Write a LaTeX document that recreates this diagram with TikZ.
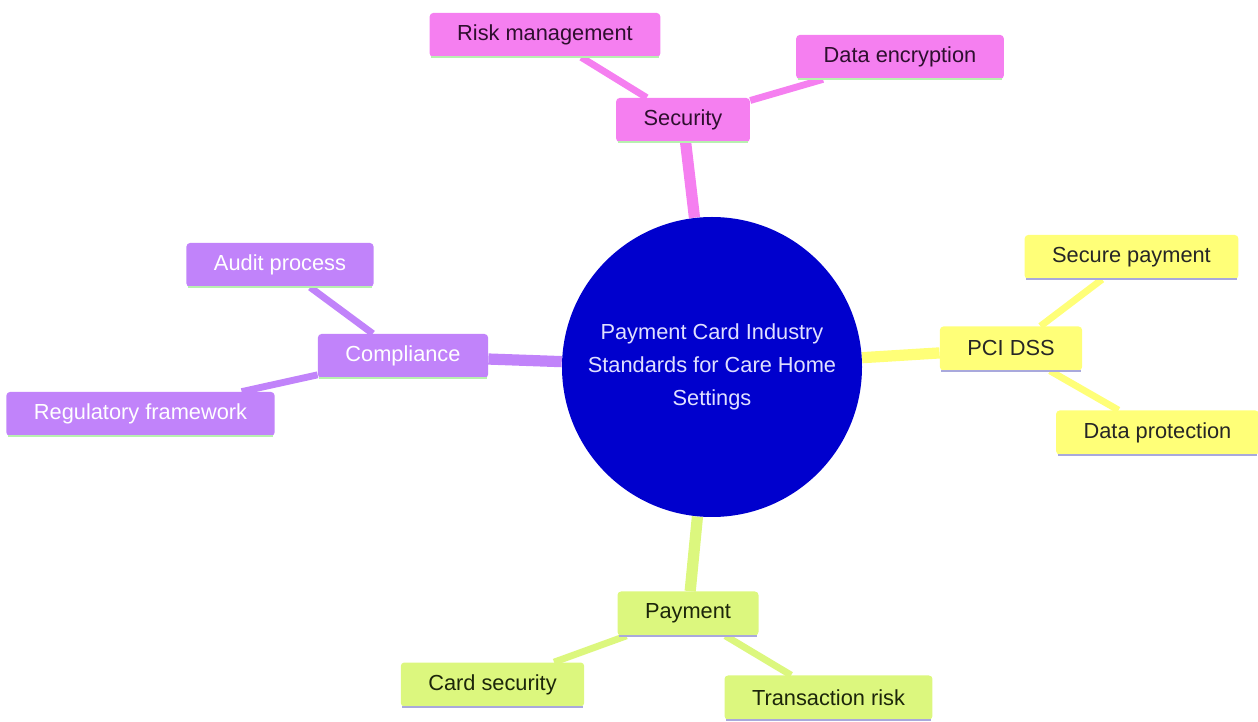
\documentclass[tikz,border=0pt]{standalone}
\usepackage{fontspec}
\setmainfont{Liberation Sans}
\usetikzlibrary{backgrounds}

\definecolor{centreblue}{HTML}{0000CD}
\definecolor{pinkfill}{HTML}{F57FF0}
\definecolor{purplefill}{HTML}{C183FA}
\definecolor{yellowfill}{HTML}{FFFF78}
\definecolor{greenfill}{HTML}{DCF77E}
\definecolor{mintline}{HTML}{B8F0B0}
\definecolor{lavline}{HTML}{A9A9DC}
\definecolor{pinktext}{HTML}{2E0F2E}
\definecolor{greentext}{HTML}{1C260A}

\tikzset{
    topic/.style={rectangle, rounded corners=2pt, inner xsep=0.55cm, minimum height=0.88cm,
        font=\fontsize{12.4}{14}\selectfont},
    centre/.style={circle, fill=centreblue, text=white!88!blue, minimum size=6cm,
        align=center, font=\fontsize{12.4}{18.7}\selectfont},
    trunk/.style={line width=6.4pt},
    twig/.style={line width=3.9pt}
}

\begin{document}
\begin{tikzpicture}
    \useasboundingbox (0,0) rectangle (25.16,-14.44);

    % the middle
    \node[centre] (pcis) at (14.24,-7.34) {Payment Card Industry\\Standards for Care Home\\Settings};

    % the main topics
    \node[topic, fill=pinkfill, text=pinktext] (sec) at (13.66,-2.40) {Security};
    \node[topic, fill=purplefill, text=white] (comp) at (8.06,-7.12) {Compliance};
    \node[topic, fill=yellowfill, text=black!85] (pci) at (20.22,-6.97) {PCI DSS};
    \node[topic, fill=greenfill, text=greentext] (pay) at (13.76,-12.27) {Payment};

    % the sub topics
    \node[topic, fill=pinkfill, text=pinktext] (risk) at (10.90,-0.70) {Risk management};
    \node[topic, fill=pinkfill, text=pinktext] (encr) at (18.00,-1.14) {Data encryption};
    \node[topic, fill=purplefill, text=white] (audit) at (5.60,-5.30) {Audit process};
    \node[topic, fill=purplefill, text=white] (regfw) at (2.81,-8.28) {Regulatory framework};
    \node[topic, fill=yellowfill, text=black!85] (securepay) at (22.63,-5.14) {Secure payment};
    \node[topic, fill=yellowfill, text=black!85] (dataprot) at (23.15,-8.65) {Data protection};
    \node[topic, fill=greenfill, text=greentext] (cardsec) at (9.85,-13.69) {Card security};
    \node[topic, fill=greenfill, text=greentext] (txrisk) at (16.57,-13.95) {Transaction risk};

    % the lines under the boxes
    \foreach \n/\c in {sec/mintline, risk/mintline, encr/mintline, comp/mintline, audit/mintline,
        regfw/mintline, pci/lavline, securepay/lavline, dataprot/lavline, pay/lavline,
        cardsec/lavline, txrisk/lavline}
        \draw[\c, line width=1.2pt] ([xshift=1pt]\n.south west) -- ([xshift=-1pt]\n.south east);

    % draw the branches behind the boxes
    \begin{scope}[on background layer]
        \draw[trunk, pinkfill] (pcis) -- (sec);
        \draw[trunk, purplefill] (pcis) -- (comp);
        \draw[trunk, yellowfill] (pcis) -- (pci);
        \draw[trunk, greenfill] (pcis) -- (pay);
        \draw[twig, pinkfill] (sec) -- (risk);
        \draw[twig, pinkfill] (sec) -- (encr);
        \draw[twig, purplefill] (comp) -- (audit);
        \draw[twig, purplefill] (comp) -- (regfw);
        \draw[twig, yellowfill] (pci) -- (securepay);
        \draw[twig, yellowfill] (pci) -- (dataprot);
        \draw[twig, greenfill] (pay) -- (cardsec);
        \draw[twig, greenfill] (pay) -- (txrisk);
    \end{scope}

\end{tikzpicture}
\end{document}
